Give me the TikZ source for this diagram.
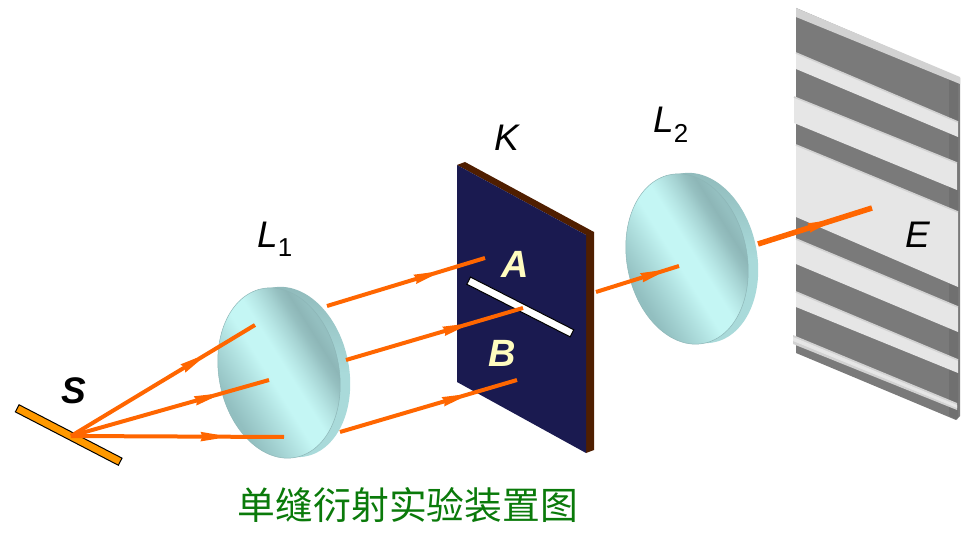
\documentclass[tikz,border=0pt]{standalone}
\usepackage{fontspec}
\setmainfont{Liberation Sans}
\newfontfamily\cjk{Noto Sans CJK SC}
\usetikzlibrary{arrows.meta,decorations.markings}
\definecolor{rayc}{HTML}{FF6600}
\definecolor{navyk}{HTML}{1A1A50}
\definecolor{brownk}{HTML}{4F1E00}
\definecolor{greyb}{HTML}{7A7A7A}
\definecolor{lightb}{HTML}{E6E6E6}
\definecolor{edgeb}{HTML}{D2D2D2}
\definecolor{lensA}{HTML}{C4F6F4}
\definecolor{lensB}{HTML}{8DB6B7}
\definecolor{lensC}{HTML}{A9DADA}
\definecolor{lensD}{HTML}{92BFC0}
\definecolor{titlec}{HTML}{0A7A0A}
\definecolor{srcc}{HTML}{FF9900}
\pgfdeclarehorizontalshading{lensshade}{100bp}{
 color(0bp)=(lensD); color(35bp)=(lensD); color(39bp)=(lensA!30!lensD); color(43bp)=(lensA!62!lensD); color(47.5bp)=(lensA);
 color(52bp)=(lensA); color(55bp)=(lensA!75!lensB); color(58bp)=(lensA!45!lensB); color(60.5bp)=(lensA!15!lensB);
 color(62.5bp)=(lensB); color(65bp)=(lensB!75!lensC); color(100bp)=(lensB!75!lensC)}
\tikzset{
 ray/.style={draw=rayc,line width=4pt},
 head/.style={postaction={decorate},decoration={markings,mark=at position #1 with {\fill[rayc] (-9pt,-4.8pt) -- (8pt,-2pt) -- (8pt,2pt) -- (-9pt,4.8pt) -- (-7pt,0pt) -- cycle;}}},
 lab/.style={font=\fontsize{37}{37}\selectfont\itshape,inner sep=0pt,text=black},
 lablight/.style={font=\fontsize{38}{38}\selectfont\bfseries\itshape,inner sep=0pt,text=yellow!25!white},
 lightband/.style={fill=lightb},
 edgeband/.style={draw=edgeb,line width=1.6pt},
}
\newcommand{\lensdraw}[2]{%
 \begin{scope}[shift={(#1,#2)}]
  \begin{scope}
   \clip[rotate around={11.3:(10,-1)}] (10,-1) ellipse [x radius=60,y radius=86];
   \shade[top color=lensB,bottom color=lensC,middle color=lensC] (-70,-100) rectangle (90,100);
  \end{scope}
  \begin{scope}
   \clip[rotate=11.3] (0,0) ellipse [x radius=60,y radius=86];
   \shade[shading=lensshade,shading angle=32] (-100,-100) rectangle (100,100);
  \end{scope}
  \draw[lensB,line width=0.5pt,rotate=11.3] (0,0) ellipse [x radius=60,y radius=86];
 \end{scope}}
\begin{document}
\begin{tikzpicture}[x=1pt,y=-1pt]
\useasboundingbox (0,0) rectangle (977,534);
% screen
\fill[greyb] (796,8) -- (960,78) -- (960,416) -- (956,420) -- (796,353) -- cycle;
\fill[black,opacity=.08] (949,73) -- (958,78) -- (958,420) -- (949,416) -- cycle;
\fill[edgeb] (796,8) -- (960,77) -- (960,84) -- (796,17) -- cycle;
\foreach \xa/\ya/\yb/\xb/\yc/\yd in {796/53/69/958/122/137, 794/97/123/957/163/190, 796/145/217/958/212/287, 796/239/264/958/307/332, 796/292/307/958/360/373}{
 \fill[lightband] (\xa,\ya) -- (\xb,\yc) -- (\xb,\yd) -- (\xa,\yb) -- cycle;
 \draw[edgeband] (\xa,\ya) -- (\xb,\yc);
}
\fill[edgeb] (793,335) -- (957,403) -- (957,410) -- (793,344) -- cycle;
\fill[lightb] (793,337) -- (957,405) -- (957,408) -- (793,341) -- cycle;
% slit panel
\fill[brownk] (457,165) -- (465,162) -- (594,232) -- (594,450) -- (586,453) -- (586,235) -- cycle;
\fill[navyk] (457,165) -- (586,235) -- (586,453) -- (457,382) -- cycle;
\node[draw=black,fill=white,line width=1pt,minimum width=116pt,minimum height=8pt,inner sep=0pt,rotate=-27] (slit) at (520.3,307) {};
% lenses
\lensdraw{279}{373}
\lensdraw{687}{259}
% source
\node[draw=black,fill=srcc,line width=1pt,minimum width=116pt,minimum height=8pt,inner sep=0pt,rotate=-27.4] (src) at (68.7,435) {};
% coordinates
\coordinate (s) at (71,436);
\coordinate (a1) at (255,325);
\coordinate (a2) at (269,380);
\coordinate (a3) at (284,437);
\coordinate (b1) at (327,306);
\coordinate (b2) at (485,258);
\coordinate (c1) at (346,360);
\coordinate (c2) at (523,308);
\coordinate (d1) at (340,432);
\coordinate (d2) at (517,380);
\coordinate (e1) at (596,292);
\coordinate (e2) at (679,266);
\coordinate (f1) at (758,244);
\coordinate (f2) at (872,208);
\draw[ray,head=0.65] (s) -- (a1);
\draw[ray,head=0.67] (s) -- (a2);
\draw[ray,head=0.65] (s) -- (a3);
\draw[ray,head=0.61] (b1) -- (b2);
\draw[ray,head=0.60] (c1) -- (c2);
\draw[ray,head=0.63] (d1) -- (d2);
\draw[ray,head=0.65] (e1) -- (e2);
\draw[ray,line width=5.5pt,head=0.52] (f1) -- (f2);
% labels
\node[font=\fontsize{37}{37}\selectfont\bfseries\itshape,inner sep=0pt] (ls) at (74,391) {S};
\node[lab] (ll1) at (275,239) {L\textsubscript{\normalfont 1}};
\node[lab] (lk) at (507,138) {K};
\node[lab] (ll2) at (671,125) {L\textsubscript{\normalfont 2}};
\node[lab] (le) at (918,235) {E};
\node[lablight] (la) at (515,264) {A};
\node[lablight] (lb) at (502,353) {B};
\node[font=\cjk\fontsize{37.8}{38}\selectfont,text=titlec,inner sep=0pt] (title) at (408,505) {单缝衍射实验装置图};
\end{tikzpicture}
\end{document}
